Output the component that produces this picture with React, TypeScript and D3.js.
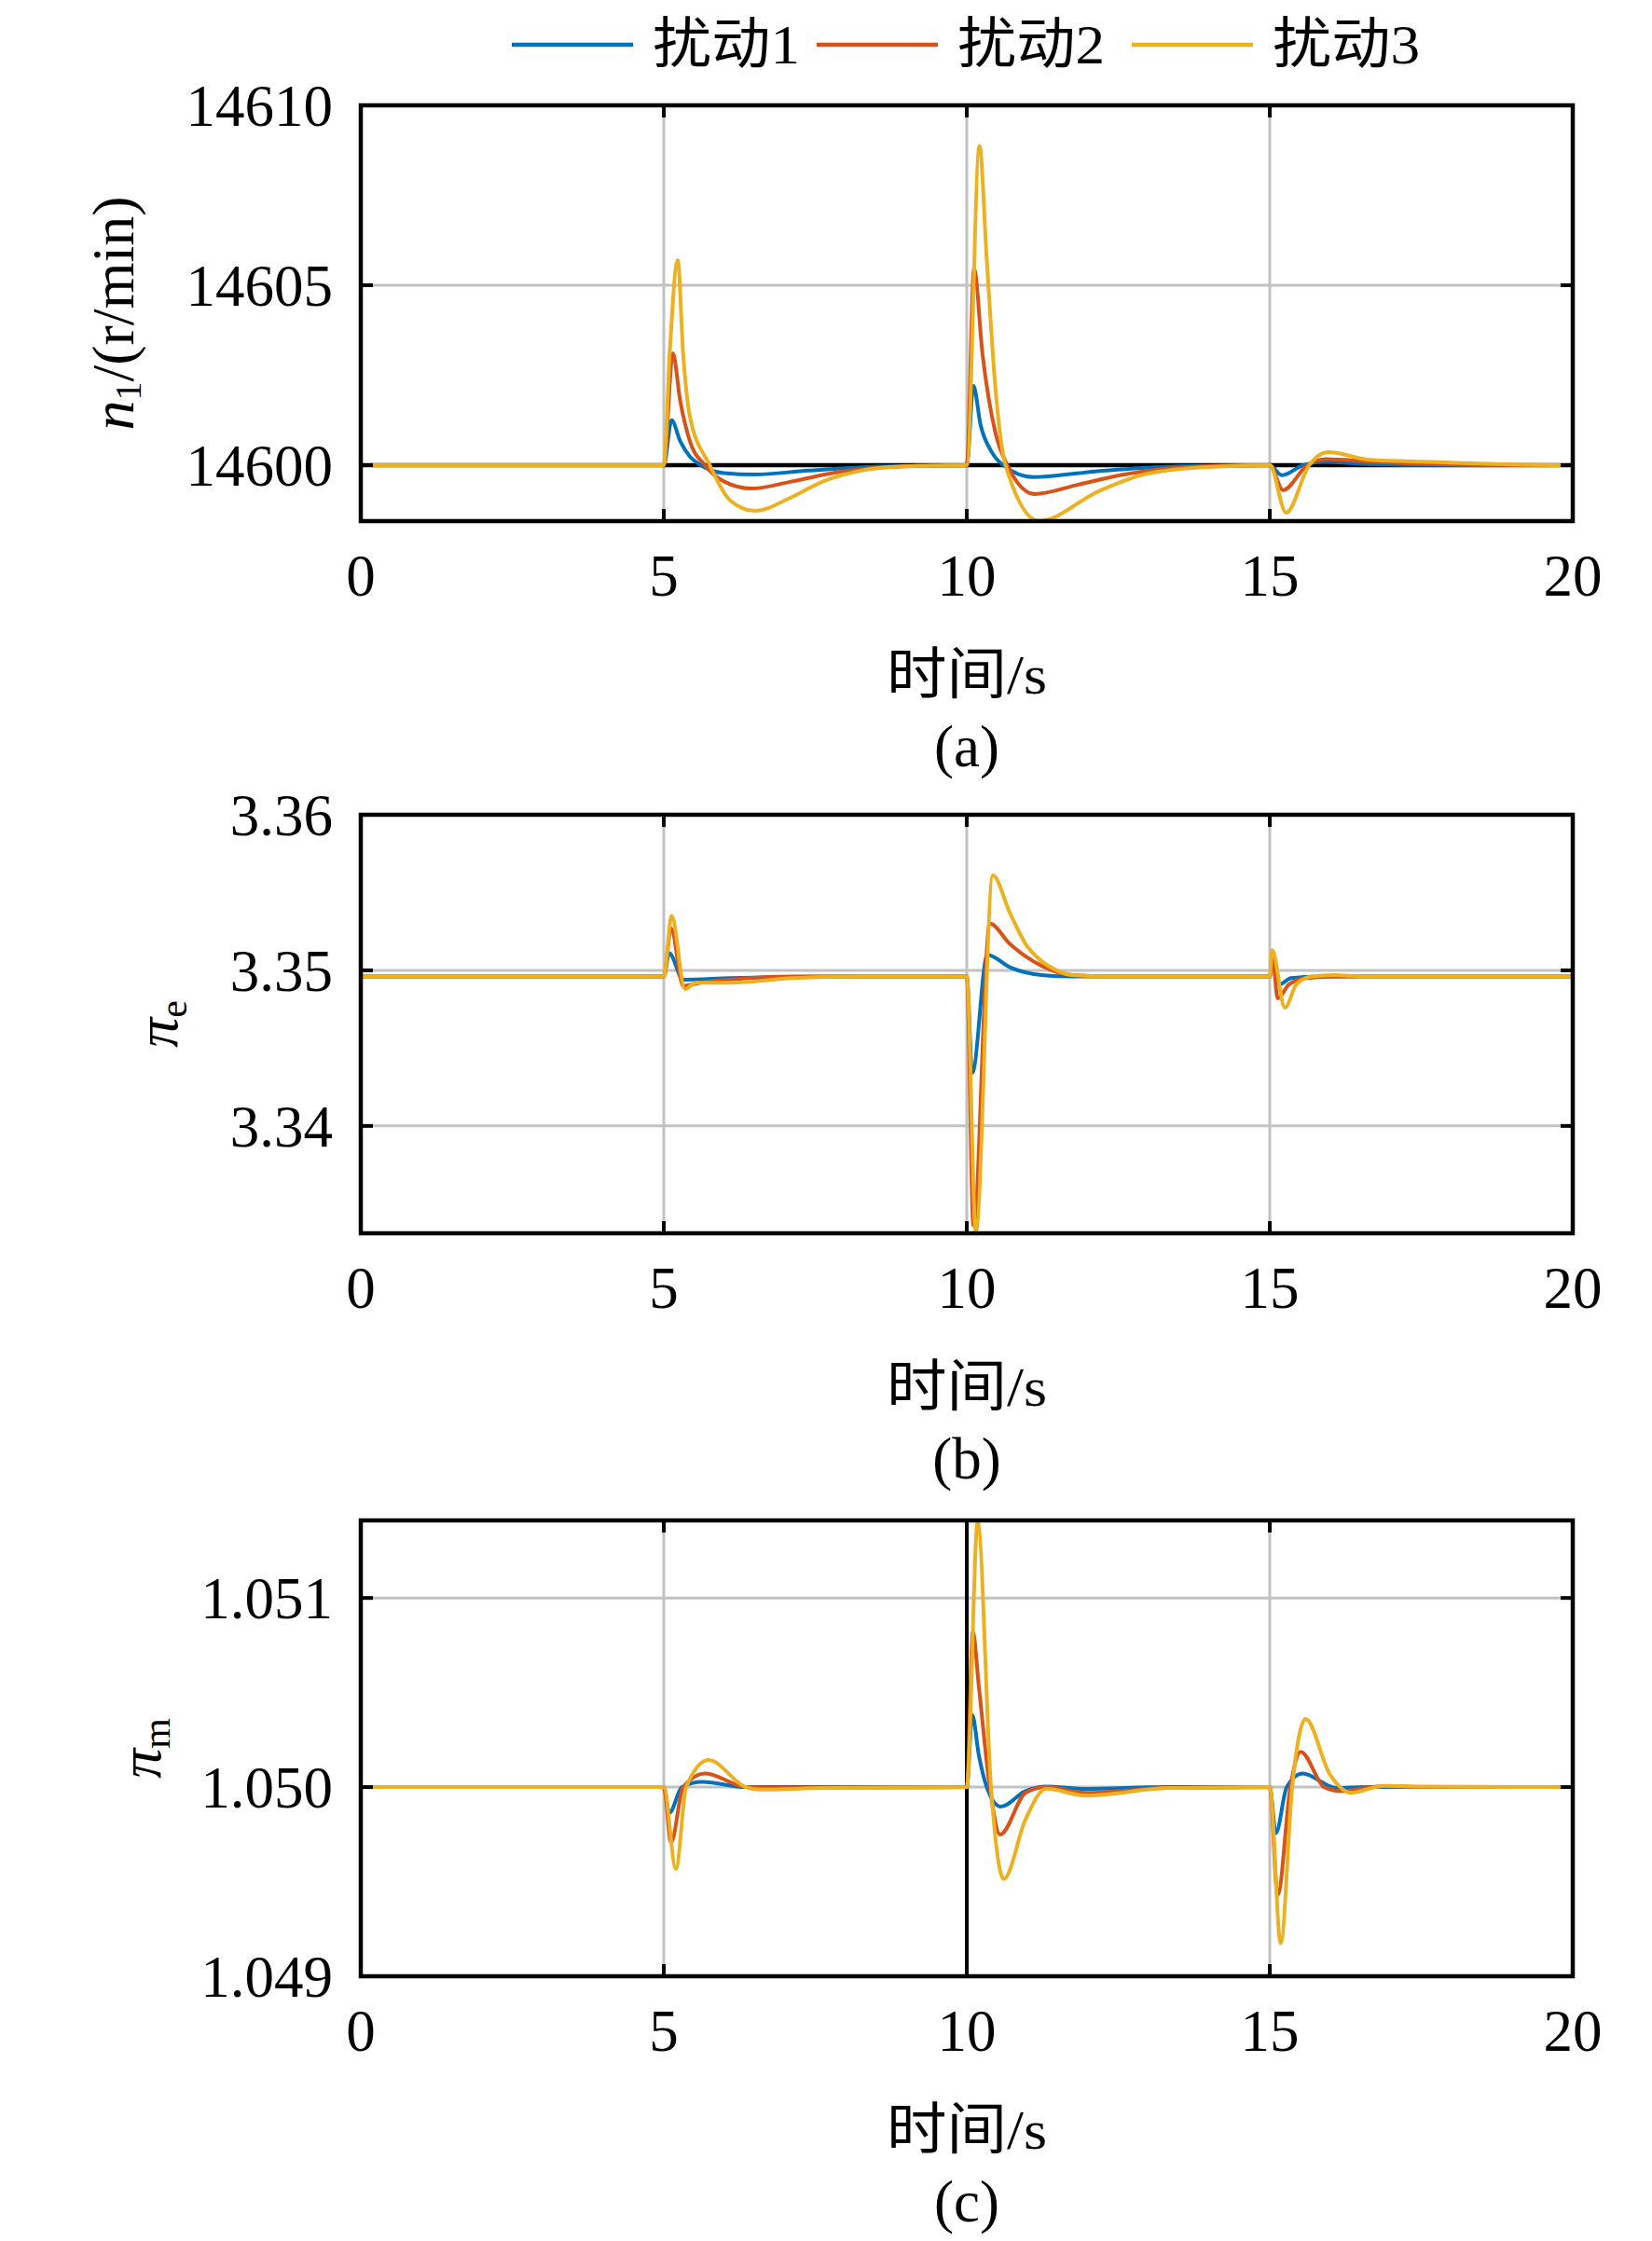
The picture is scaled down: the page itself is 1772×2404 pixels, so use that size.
import React from 'react';
import * as d3 from 'd3';

type Pt = [number, number];

const seriesNames = ['扰动1', '扰动2', '扰动3'];
const seriesColors = ['#0072BD', '#D95319', '#EDB120'];
const timeTicks = [0, 5, 10, 15, 20];

// (a) n1 speed
const n1Ticks = [14600, 14605, 14610];
const n1Dist1: Pt[] = [
  [0, 14600], [5, 14600], [5.13, 14601.25], [5.27, 14600.67], [5.43, 14600.24], [5.61, 14600],
  [5.99, 14599.78], [6.5, 14599.74], [7.38, 14599.85], [8.15, 14599.93], [9, 14599.98], [10, 14600],
  [10.11, 14602.2], [10.23, 14601.1], [10.4, 14600.4], [10.6, 14600], [11.1, 14599.67], [12.2, 14599.84],
  [13.2, 14599.95], [14.2, 14599.99], [15, 14600], [15.2, 14599.72], [15.55, 14600], [15.9, 14600.09],
  [16.5, 14600.04], [17.2, 14600.01], [20, 14600],
];
const n1Dist2: Pt[] = [
  [0, 14600], [5, 14600], [5.15, 14603.11], [5.27, 14601.8], [5.43, 14600.67], [5.68, 14600],
  [5.99, 14599.55], [6.45, 14599.35], [7.12, 14599.55], [7.89, 14599.81], [8.66, 14599.94], [9.5, 14599.99],
  [10, 14600], [10.12, 14605.46], [10.26, 14603.08], [10.47, 14600.92], [10.67, 14600], [11.12, 14599.2],
  [11.84, 14599.46], [12.53, 14599.72], [13.21, 14599.89], [13.9, 14599.97], [15, 14600], [15.22, 14599.31],
  [15.62, 14600], [15.93, 14600.17], [16.65, 14600.1], [17.5, 14600.04], [18.4, 14600.01], [20, 14600],
];
const n1Dist3: Pt[] = [
  [0, 14600], [5, 14600], [5.1, 14603.2], [5.23, 14605.7], [5.32, 14603.09], [5.43, 14601.36], [5.76, 14600],
  [6.09, 14599.03], [6.5, 14598.73], [7.12, 14599.12], [7.63, 14599.55], [8.15, 14599.81], [8.66, 14599.94],
  [9.17, 14599.98], [10, 14600], [10.21, 14608.87], [10.33, 14605.7], [10.47, 14602.2], [10.64, 14600],
  [11.19, 14598.45], [12.18, 14599.28], [12.87, 14599.72], [13.56, 14599.9], [14.24, 14599.97], [15, 14600],
  [15.27, 14598.68], [15.65, 14600], [15.96, 14600.36], [16.65, 14600.15], [17.7, 14600.09], [18.7, 14600.03],
  [19.76, 14600], [20, 14600],
];

// (b) pi_e
const peTicks = [3.34, 3.35, 3.36];
const peDist1: Pt[] = [
  [0, 3.3496], [5, 3.3496], [5.09, 3.3511], [5.32, 3.3494], [6.09, 3.3495], [8, 3.3496], [10, 3.3496],
  [10.09, 3.3434], [10.34, 3.351], [10.71, 3.3502], [11.23, 3.3497], [11.74, 3.3496], [15, 3.3496],
  [15.04, 3.3504], [15.16, 3.3491], [15.35, 3.3495], [15.8, 3.3496], [20, 3.3496],
];
const peDist2: Pt[] = [
  [0, 3.3496], [5, 3.3496], [5.12, 3.3527], [5.32, 3.349], [5.6, 3.3492], [6.09, 3.3494], [7.12, 3.3496],
  [10, 3.3496], [10.11, 3.3336], [10.38, 3.353], [10.71, 3.3517], [11.23, 3.3503], [11.74, 3.3497],
  [12.5, 3.3496], [15, 3.3496], [15.05, 3.3507], [15.13, 3.3482], [15.32, 3.3491], [15.6, 3.3495],
  [16.1, 3.3496], [20, 3.3496],
];
const peDist3: Pt[] = [
  [0, 3.3496], [5, 3.3496], [5.13, 3.3535], [5.35, 3.3488], [5.53, 3.3492], [6.09, 3.3492], [7.12, 3.3495],
  [8.15, 3.3496], [10, 3.3496], [10.15, 3.3332], [10.43, 3.3561], [10.71, 3.3537], [10.97, 3.3517],
  [11.23, 3.3506], [11.48, 3.35], [11.74, 3.3497], [12.5, 3.3496], [15, 3.3496], [15.04, 3.3513],
  [15.25, 3.3476], [15.44, 3.3491], [15.69, 3.3496], [16.05, 3.3497], [16.6, 3.3496], [20, 3.3496],
];

// (c) pi_m
const pmTicks = [1.049, 1.05, 1.051];
const pmDist1: Pt[] = [
  [0, 1.05], [5, 1.05], [5.09, 1.049864], [5.3, 1.05], [5.63, 1.050028], [6.35, 1.05], [10, 1.05],
  [10.09, 1.050381], [10.2, 1.050167], [10.33, 1.05], [10.56, 1.049897], [10.97, 1.049979], [11.31, 1.050003],
  [11.96, 1.04999], [13.3, 1.05], [15, 1.05], [15.1, 1.049757], [15.28, 1.05], [15.54, 1.050072],
  [16.1, 1.049995], [16.6, 1.05], [20, 1.05],
];
const pmDist2: Pt[] = [
  [0, 1.05], [5, 1.05], [5.12, 1.049708], [5.32, 1.05], [5.68, 1.050072], [6.35, 1.05], [6.8, 1.049995],
  [10, 1.05], [10.1, 1.05082], [10.2, 1.05053], [10.38, 1.05], [10.55, 1.049749], [10.97, 1.04997],
  [11.31, 1.05], [11.96, 1.04997], [13.3, 1.049995], [15, 1.05], [15.13, 1.04943], [15.34, 1.05],
  [15.51, 1.050187], [15.9, 1.05], [16.17, 1.049979], [16.88, 1.050005], [17.5, 1.05], [20, 1.05],
];
const pmDist3: Pt[] = [
  [0, 1.05], [5, 1.05], [5.2, 1.049568], [5.37, 1.05], [5.74, 1.050143], [6.35, 1.05], [6.6, 1.049987],
  [7.63, 1.049995], [10, 1.05], [10.18, 1.0514], [10.4, 1.05], [10.61, 1.049514], [10.97, 1.04983],
  [11.31, 1.049992], [11.96, 1.049955], [13.33, 1.049995], [15, 1.05], [15.18, 1.049174], [15.37, 1.05],
  [15.59, 1.05036], [15.99, 1.050069], [16.34, 1.04997], [16.88, 1.050007], [17.47, 1.050003], [20, 1.05],
];

const W = 1772;
const H = 2404;
const LEFT = 387;
const RIGHT = 1687;
const SERIF = "'Liberation Serif', 'Times New Roman', 'Noto Sans CJK SC', serif";
const GRID = '#c2c2c2';

interface PanelProps {
  id: string;
  top: number;
  bottom: number;
  yDomain: [number, number];
  yTicks: number[];
  fmt: (v: number) => string;
  series: Pt[][];
  tag: string;
  yLabel: React.ReactNode;
  yLabelX: number;
  hRef?: number;
  vRef?: number;
}

const Panel: React.FC<PanelProps> = ({ id, top, bottom, yDomain, yTicks, fmt, series, tag, yLabel, yLabelX, hRef, vRef }) => {
  const x = d3.scaleLinear().domain([0, 20]).range([LEFT, RIGHT]);
  const y = d3.scaleLinear().domain(yDomain).range([bottom, top]);
  const line = d3.line<Pt>().x(d => x(d[0])).y(d => y(d[1])).curve(d3.curveMonotoneX);
  const tl = 13;
  const inner = (v: number, lo: number, hi: number) => v > lo + 1 && v < hi - 1;

  return (
    <g>
      <defs>
        <clipPath id={`clip-${id}`}>
          <rect x={LEFT} y={top} width={RIGHT - LEFT} height={bottom - top} />
        </clipPath>
      </defs>
      {/* grid */}
      {timeTicks.filter(t => inner(x(t), LEFT, RIGHT)).map(t => (
        <line key={`gx${t}`} x1={x(t)} x2={x(t)} y1={top} y2={bottom} stroke={GRID} strokeWidth={3} />
      ))}
      {yTicks.filter(v => inner(y(v), top, bottom)).map(v => (
        <line key={`gy${v}`} x1={LEFT} x2={RIGHT} y1={y(v)} y2={y(v)} stroke={GRID} strokeWidth={3} />
      ))}
      {/* reference lines */}
      {hRef !== undefined && (
        <line x1={LEFT} x2={RIGHT} y1={y(hRef)} y2={y(hRef)} stroke="#000" strokeWidth={4.5} />
      )}
      {vRef !== undefined && (
        <line x1={x(vRef)} x2={x(vRef)} y1={top} y2={bottom} stroke="#000" strokeWidth={4} />
      )}
      {/* series */}
      <g clipPath={`url(#clip-${id})`}>
        {series.map((s, i) => (
          <path key={i} d={line(s) || ''} fill="none" stroke={seriesColors[i]} strokeWidth={4}
            strokeLinejoin="round" strokeLinecap="round" />
        ))}
      </g>
      {/* ticks */}
      {timeTicks.map(t => (
        <g key={`tx${t}`}>
          <line x1={x(t)} x2={x(t)} y1={bottom} y2={bottom - tl} stroke="#000" strokeWidth={4} />
          <line x1={x(t)} x2={x(t)} y1={top} y2={top + tl} stroke="#000" strokeWidth={4} />
          <text x={x(t)} y={bottom + 80} textAnchor="middle" fontSize={63} fontFamily={SERIF}>{t}</text>
        </g>
      ))}
      {yTicks.map(v => (
        <g key={`ty${v}`}>
          <line x1={LEFT} x2={LEFT + tl} y1={y(v)} y2={y(v)} stroke="#000" strokeWidth={4} />
          <line x1={RIGHT} x2={RIGHT - tl} y1={y(v)} y2={y(v)} stroke="#000" strokeWidth={4} />
          <text x={357} y={y(v)} dy="0.35em" textAnchor="end" fontSize={63} fontFamily={SERIF}>{fmt(v)}</text>
        </g>
      ))}
      {/* box */}
      <rect x={LEFT} y={top} width={RIGHT - LEFT} height={bottom - top} fill="none" stroke="#000" strokeWidth={4.5} />
      {/* labels */}
      <text x={(LEFT + RIGHT) / 2} y={bottom + 185} textAnchor="middle" fontSize={60} fontFamily={SERIF}
        textLength={172} lengthAdjust="spacingAndGlyphs">时间/s</text>
      <text x={(LEFT + RIGHT) / 2} y={bottom + 263} textAnchor="middle" fontSize={63} fontFamily={SERIF}>{tag}</text>
      <text transform={`translate(${yLabelX},${(top + bottom) / 2}) rotate(-90)`} textAnchor="middle"
        fontSize={64} fontFamily={SERIF}>{yLabel}</text>
    </g>
  );
};

const App: React.FC = () => {
  const legendStart = 549;
  const legendLine = 130;
  const legendStep = [0, 327, 665];

  return (
    <svg width={W} height={H} viewBox={`0 0 ${W} ${H}`}
      style={{ position: 'absolute', left: 0, top: 0, background: '#fff' }}>
      <rect width={W} height={H} fill="#fff" />
      {/* legend */}
      {seriesNames.map((name, i) => {
        const lx = legendStart + legendStep[i];
        return (
          <g key={name}>
            <line x1={lx} x2={lx + legendLine} y1={48} y2={48} stroke={seriesColors[i]} strokeWidth={4.5} />
            <text x={lx + legendLine + 21} y={68} fontSize={60} fontFamily={SERIF}
              textLength={158} lengthAdjust="spacingAndGlyphs">{name}</text>
          </g>
        );
      })}
      <Panel id="a" top={113} bottom={559} yDomain={[14598.446, 14610]} yTicks={n1Ticks}
        fmt={d3.format('d')} series={[n1Dist1, n1Dist2, n1Dist3]} tag="(a)" yLabelX={143} hRef={14600}
        yLabel={<>
          <tspan fontStyle="italic">n</tspan>
          <tspan fontSize={40} dy={8}>1</tspan>
          <tspan dy={-8}>/(r/min)</tspan>
        </>} />
      <Panel id="b" top={874} bottom={1323} yDomain={[3.3331, 3.36]} yTicks={peTicks}
        fmt={d3.format('.2f')} series={[peDist1, peDist2, peDist3]} tag="(b)" yLabelX={190}
        yLabel={<>
          <tspan fontStyle="italic">π</tspan>
          <tspan fontSize={42} dy={10}>e</tspan>
        </>} />
      <Panel id="c" top={1631} bottom={2120} yDomain={[1.049, 1.05141]} yTicks={pmTicks}
        fmt={d3.format('.3f')} series={[pmDist1, pmDist2, pmDist3]} tag="(c)" yLabelX={172} vRef={10}
        yLabel={<>
          <tspan fontStyle="italic">π</tspan>
          <tspan fontSize={42} dy={10}>m</tspan>
        </>} />
    </svg>
  );
};

export default App;
